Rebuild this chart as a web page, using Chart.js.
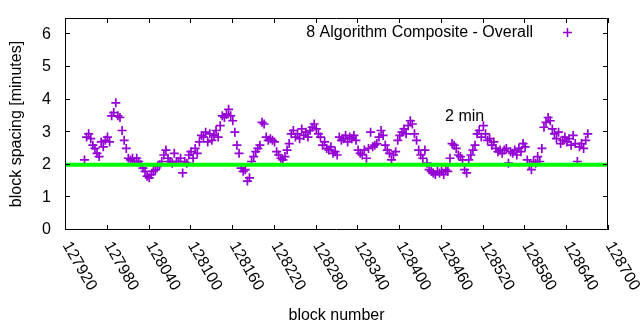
<!DOCTYPE html>
<html><head><meta charset="utf-8">
<script src="https://cdn.jsdelivr.net/npm/chart.js@4.4.1/dist/chart.umd.min.js"></script>
<style>html,body{margin:0;padding:0;background:#fff}#wrap{width:640px;height:330px}</style>
</head><body><div id="wrap"><canvas id="c" width="640" height="330"></canvas></div>
<script>
const seriesName = '8 Algorithm Composite - Overall';
const targetLabel = '2 min';
const targetMinutes = 2;
const targetLabelAt = [128466, 3.48];
const xRange = [127920, 128700];
const yRange = [0, 6.5];
const xTickValues = [127920,127980,128040,128100,128160,128220,128280,128340,128400,128460,128520,128580,128640,128700];
const yTickValues = [0,1,2,3,4,5,6];
const xTitle = 'block number';
const yTitle = 'block spacing [minutes]';

const blocks = [
127948,127951,127954,127957,127960,127963,127966,127969,127972,127975,
127978,127981,127984,127987,127990,127993,127996,127999,128002,128005,
128008,128011,128014,128017,128020,128023,128026,128029,128032,128035,
128038,128041,128044,128047,128050,128053,128056,128059,128062,128065,
128068,128071,128074,128077,128080,128083,128086,128089,128092,128095,
128098,128101,128104,128107,128110,128113,128116,128119,128122,128125,
128128,128131,128134,128137,128140,128143,128146,128149,128152,128155,
128158,128161,128164,128167,128170,128173,128176,128179,128182,128185,
128188,128191,128194,128197,128200,128203,128206,128209,128212,128215,
128218,128221,128224,128227,128230,128233,128236,128239,128242,128245,
128248,128251,128254,128257,128260,128263,128266,128269,128272,128275,
128278,128281,128284,128287,128290,128293,128296,128299,128302,128305,
128308,128311,128314,128317,128320,128323,128326,128329,128332,128335,
128338,128341,128344,128347,128350,128353,128356,128359,128362,128365,
128368,128371,128374,128377,128380,128383,128386,128389,128392,128395,
128398,128401,128404,128407,128410,128413,128416,128419,128422,128425,
128428,128431,128434,128437,128440,128443,128446,128449,128452,128455,
128458,128461,128464,128467,128470,128473,128476,128479,128482,128485,
128488,128491,128494,128497,128500,128503,128506,128509,128512,128515,
128518,128521,128524,128527,128530,128533,128536,128539,128542,128545,
128548,128551,128554,128557,128560,128563,128566,128569,128572,128575,
128578,128581,128584,128587,128590,128593,128596,128599,128602,128605,
128608,128611,128614,128617,128620,128623,128626,128629,128632,128635,
128638,128641,128644,128647,128650,128653,128656,128659,128662,128665,
128668,128671];

const spacing = [
2.15,2.85,2.95,2.8,2.6,2.5,2.35,2.25,2.7,2.55,
2.75,2.85,2.7,3.5,3.6,3.9,3.5,3.45,3.05,2.75,
2.5,2.2,2.15,2.2,2.1,2.2,2.1,2.0,1.9,1.8,
1.65,1.6,1.7,1.8,1.85,1.95,2.0,2.1,2.3,2.45,
2.2,2.1,2.05,2.35,2.1,2.1,2.2,1.75,2.1,2.05,
2.3,2.4,2.2,2.5,2.35,2.7,2.9,2.85,3.0,2.7,
2.95,2.75,2.9,3.05,2.85,3.2,3.5,3.45,3.55,3.7,
3.5,3.35,3.0,2.6,2.35,1.9,1.8,1.85,1.5,1.6,
2.1,2.25,2.4,2.5,2.6,3.3,3.25,2.85,2.75,2.8,
2.75,2.7,2.4,2.3,2.2,2.15,2.25,2.45,2.65,2.95,
3.05,2.85,2.95,2.8,3.1,2.9,3.0,2.85,3.05,3.15,
3.25,3.1,2.95,2.85,2.6,2.7,2.5,2.45,2.55,2.35,
2.4,2.3,2.85,2.75,2.8,2.9,2.7,2.85,2.8,2.9,
2.75,2.45,2.35,2.3,2.45,2.2,2.5,3.0,2.55,2.6,
2.65,2.85,3.05,2.9,2.6,2.45,2.35,2.15,2.3,2.4,
2.75,2.9,3.0,3.1,2.95,3.2,3.35,3.25,2.95,2.75,
2.45,2.3,2.2,2.45,2.05,1.85,1.8,1.75,1.7,1.8,
1.75,1.8,1.7,1.85,1.8,2.2,2.65,2.6,2.5,2.3,
2.25,2.15,1.85,1.75,2.15,2.3,2.45,2.6,2.95,3.05,
2.85,3.2,2.95,2.75,2.8,2.6,2.7,2.5,2.4,2.45,
2.35,2.45,2.5,2.05,2.4,2.35,2.45,2.3,2.5,2.4,
2.65,2.55,2.15,2.0,1.85,2.1,2.05,2.25,2.1,2.5,
3.15,3.3,3.45,3.35,3.1,2.95,2.8,3.0,2.65,2.75,
2.85,2.7,2.8,2.6,2.9,2.65,2.1,2.55,2.65,2.5,
2.75,2.95];

const FONT = "'Liberation Sans', Arial, sans-serif";
const PURPLE = '#9400d3';
const GREEN = '#00ff00';

const framePlugin = {
  id: 'gnuFrame',
  afterDraw(chart) {
    const {ctx, chartArea: a, scales: {x, y}} = chart;
    ctx.save();
    ctx.strokeStyle = '#000';
    ctx.lineWidth = 1;
    ctx.beginPath();
    ctx.rect(Math.round(a.left) + 0.5, Math.round(a.top) + 0.5, Math.round(a.right - a.left) - 1, Math.round(a.bottom - a.top) - 1);
    ctx.stroke();
    const tl = 5;
    ctx.beginPath();
    xTickValues.forEach(v => {
      const px = Math.round(x.getPixelForValue(v)) + 0.5;
      ctx.moveTo(px, a.bottom); ctx.lineTo(px, a.bottom - tl);
      ctx.moveTo(px, a.top); ctx.lineTo(px, a.top + tl);
    });
    yTickValues.forEach(v => {
      const py = Math.round(y.getPixelForValue(v)) - 0.5;
      ctx.moveTo(a.left, py); ctx.lineTo(a.left + tl, py);
      ctx.moveTo(a.right, py); ctx.lineTo(a.right - tl, py);
    });
    ctx.stroke();
    // rotated x tick labels
    ctx.fillStyle = '#000';
    ctx.font = '16px ' + FONT;
    ctx.textAlign = 'left';
    ctx.textBaseline = 'middle';
    xTickValues.forEach(v => {
      const px = x.getPixelForValue(v);
      ctx.save();
      ctx.translate(px + 1, a.bottom + 13);
      ctx.rotate(Math.PI / 3);
      ctx.fillText(String(v), 0, 0);
      ctx.restore();
    });
    // target label
    ctx.textAlign = 'left';
    ctx.fillText(targetLabel, x.getPixelForValue(targetLabelAt[0]), y.getPixelForValue(targetLabelAt[1]));
    // key
    ctx.textAlign = 'right';
    ctx.fillText(seriesName, 533, 33);
    ctx.strokeStyle = PURPLE;
    ctx.lineWidth = 1.5;
    ctx.beginPath();
    ctx.moveTo(567.5 - 4.5, 32.5); ctx.lineTo(567.5 + 4.5, 32.5);
    ctx.moveTo(567.5, 32.5 - 4.5); ctx.lineTo(567.5, 32.5 + 4.5);
    ctx.stroke();
    ctx.restore();
  }
};

new Chart(document.getElementById('c'), {
  type: 'scatter',
  data: {
    datasets: [
      {
        label: targetLabel,
        type: 'line',
        data: [{x: xRange[0], y: targetMinutes}, {x: xRange[1], y: targetMinutes}],
        borderColor: GREEN,
        borderWidth: 4,
        pointRadius: 0,
        fill: false,
        order: 0
      },
      {
        label: seriesName,
        data: blocks.map((b, i) => ({x: b, y: spacing[i]})),
        pointStyle: 'cross',
        pointRadius: 4.5,
        borderColor: PURPLE,
        backgroundColor: PURPLE,
        borderWidth: 1.7,
        order: 1
      }
    ]
  },
  options: {
    responsive: false,
    animation: false,
    devicePixelRatio: 1,
    layout: {padding: {top: 18, right: 32, left: 0, bottom: 0}},
    plugins: {legend: {display: false}, tooltip: {enabled: false}},
    scales: {
      x: {
        type: 'linear', min: xRange[0], max: xRange[1],
        grid: {display: false}, border: {display: false},
        ticks: {display: false, stepSize: 60},
        title: {display: true, text: xTitle, color: '#000', font: {family: FONT, size: 16}, padding: {top: 4, bottom: 5}},
        afterFit(s) { s.height = 100; s.paddingLeft = 0; s.paddingRight = 0; }
      },
      y: {
        min: yRange[0], max: yRange[1],
        grid: {display: false, drawTicks: false}, border: {display: false},
        ticks: {color: '#000', font: {family: FONT, size: 16}, padding: 14,
          callback: v => String(v)},
        afterBuildTicks(s) { s.ticks = yTickValues.map(v => ({value: v})); },
        title: {display: true, text: yTitle, color: '#000', font: {family: FONT, size: 16}, padding: {top: 7, bottom: 0}},
        afterFit(s) { s.width = 65; s.paddingTop = 0; s.paddingBottom = 0; }
      }
    }
  },
  plugins: [framePlugin]
});
</script></body></html>
